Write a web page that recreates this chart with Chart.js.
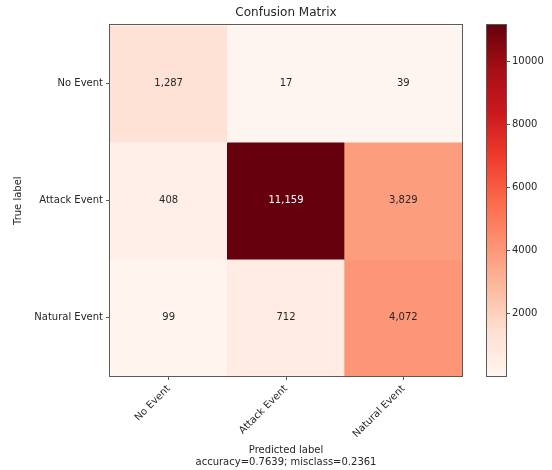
<!DOCTYPE html>
<html>
<head>
<meta charset="utf-8">
<title>Confusion Matrix</title>
<script src="https://cdn.jsdelivr.net/npm/chart.js"></script>
<style>
  body { margin: 0; background: #fff; }
  #wrap { position: relative; width: 552px; height: 470px; }
  #matrix { position: absolute; left: 0; top: 0; }
  #cbar { position: absolute; left: 480px; top: 0; }
</style>
</head>
<body>
<div id="wrap">
  <canvas id="matrix" width="480" height="470"></canvas>
  <canvas id="cbar" width="72" height="470"></canvas>
</div>
<script>
// class names (rows = true label, columns = predicted label)
const trueLabels = ['No Event', 'Attack Event', 'Natural Event'];
const predLabels = ['No Event', 'Attack Event', 'Natural Event'];
// counts[row][col]
const counts = [
  [1287, 17, 39],
  [408, 11159, 3829],
  [99, 712, 4072]
];
const accuracy = 0.7639;
const misclass = 0.2361;
const cbarTicks = [2000, 4000, 6000, 8000, 10000];

// matplotlib "Reds" colormap stops
const REDS = ['#fff5f0', '#fee0d2', '#fcbba1', '#fc9272', '#fb6a4a',
              '#ef3b2c', '#cb181d', '#a50f15', '#67000d'];

const flat = counts.flat();
const vmin = Math.min(...flat);
const vmax = Math.max(...flat);

function hexToRgb(h) {
  return [1, 3, 5].map(i => parseInt(h.substr(i, 2), 16));
}

function reds(v) {
  let t = (v - vmin) / (vmax - vmin);
  t = Math.max(0, Math.min(1, t));
  const pos = t * (REDS.length - 1);
  const i = Math.min(Math.floor(pos), REDS.length - 2);
  const f = pos - i;
  const a = hexToRgb(REDS[i]), b = hexToRgb(REDS[i + 1]);
  const c = a.map((x, k) => Math.round(x + (b[k] - x) * f));
  return `rgb(${c[0]},${c[1]},${c[2]})`;
}

const FONT = 'DejaVu Sans';
const TXT = '#262626';
const EDGE = '#5a5a5a';

// box around the plot area
const frame = {
  id: 'frame',
  afterDraw(chart) {
    const a = chart.chartArea, c = chart.ctx;
    c.save();
    c.strokeStyle = EDGE;
    c.lineWidth = 1;
    c.strokeRect(Math.round(a.left) - 0.5, Math.round(a.top) - 0.5,
                 Math.round(a.right - a.left) + 1, Math.round(a.bottom - a.top) + 1);
    c.restore();
  }
};

// numbers written in each cell
const cellText = {
  id: 'cellText',
  afterDatasetsDraw(chart) {
    const c = chart.ctx;
    c.save();
    c.font = `10px "${FONT}"`;
    c.textAlign = 'center';
    c.textBaseline = 'middle';
    chart.data.datasets.forEach((ds, i) => {
      chart.getDatasetMeta(i).data.forEach((bar, j) => {
        const v = counts[i][j];
        c.fillStyle = v > vmax / 2 ? '#ffffff' : TXT;
        c.fillText(v.toLocaleString('en-US'), bar.x, (bar.y + bar.base) / 2);
      });
    });
    c.restore();
  }
};

new Chart(document.getElementById('matrix'), {
  type: 'bar',
  data: {
    labels: predLabels,
    datasets: trueLabels.map((name, i) => ({
      label: name,
      data: predLabels.map(() => 1),
      backgroundColor: counts[i].map(reds),
      borderWidth: 0,
      categoryPercentage: 1,
      barPercentage: 1
    }))
  },
  options: {
    responsive: false,
    animation: false,
    events: [],
    layout: { padding: { right: 18 } },
    plugins: {
      legend: { display: false },
      tooltip: { enabled: false },
      title: {
        display: true,
        text: 'Confusion Matrix',
        fullSize: false,
        color: TXT,
        font: { family: FONT, size: 12, weight: 'normal' },
        padding: { top: 6, bottom: 5 }
      }
    },
    scales: {
      x: {
        stacked: true,
        grid: { drawOnChartArea: false, offset: false, tickLength: 4, color: EDGE },
        border: { display: false },
        ticks: { minRotation: 45, maxRotation: 45, padding: 3, color: TXT,
                 font: { family: FONT, size: 10 } },
        title: {
          display: true,
          text: ['Predicted label', `accuracy=${accuracy.toFixed(4)}; misclass=${misclass.toFixed(4)}`],
          color: TXT,
          font: { family: FONT, size: 10 },
          padding: { top: 0, bottom: 2 }
        },
        afterFit(s) { s.height = 94; }
      },
      y: {
        stacked: true,
        reverse: true,
        min: 0,
        max: 3,
        afterBuildTicks(s) { s.ticks = trueLabels.map((_, i) => ({ value: i + 0.5 })); },
        grid: { drawOnChartArea: false, tickLength: 4, color: EDGE },
        border: { display: false },
        ticks: { callback: (v, i) => trueLabels[i], padding: 3, color: TXT,
                 font: { family: FONT, size: 10 } },
        title: {
          display: true,
          text: 'True label',
          color: TXT,
          font: { family: FONT, size: 10 },
          padding: { top: 12, bottom: 0 }
        },
        afterFit(s) { s.width = 110; }
      }
    }
  },
  plugins: [cellText, frame]
});

// colour bar
new Chart(document.getElementById('cbar'), {
  type: 'bar',
  data: {
    labels: [''],
    datasets: [{
      data: [[vmin, vmax]],
      categoryPercentage: 1,
      barPercentage: 1,
      borderWidth: 0,
      backgroundColor(ctx) {
        const area = ctx.chart.chartArea;
        if (!area) return REDS[0];
        const g = ctx.chart.ctx.createLinearGradient(0, area.bottom, 0, area.top);
        REDS.forEach((col, i) => g.addColorStop(i / (REDS.length - 1), col));
        return g;
      }
    }]
  },
  options: {
    responsive: false,
    animation: false,
    events: [],
    layout: { padding: { left: 7, top: 25, bottom: 94 } },
    plugins: { legend: { display: false }, tooltip: { enabled: false } },
    scales: {
      x: { display: false },
      y: {
        position: 'right',
        min: vmin,
        max: vmax,
        afterBuildTicks(s) { s.ticks = cbarTicks.map(v => ({ value: v })); },
        grid: { drawOnChartArea: false, tickLength: 4, color: EDGE },
        border: { display: false },
        ticks: { callback: v => String(v), padding: 2, color: TXT,
                 font: { family: FONT, size: 10 } },
        afterFit(s) { s.width = 46; }
      }
    }
  },
  plugins: [frame]
});
</script>
</body>
</html>
